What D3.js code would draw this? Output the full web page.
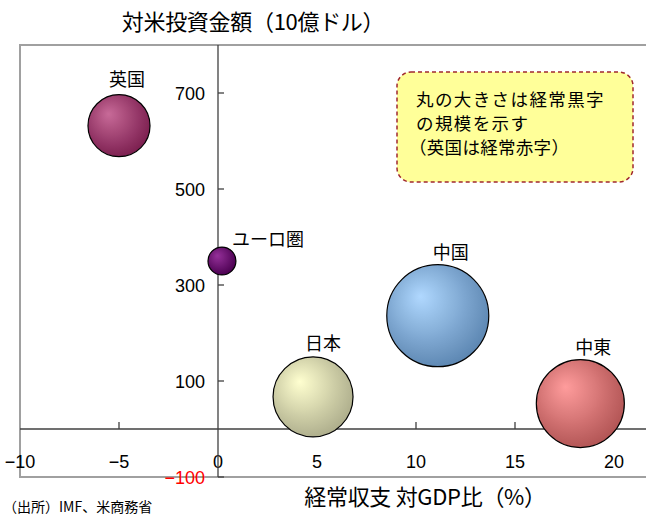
<!DOCTYPE html>
<html>
<head>
<meta charset="utf-8">
<script src="https://cdn.jsdelivr.net/npm/d3@7"></script>
<style>
  body { margin: 0; background: #fff; }
  svg { display: block; font-family: "Noto Sans CJK JP", "Noto Sans", sans-serif; }
  .num { font-family: "Liberation Sans Narrow", "Liberation Sans", sans-serif; }
</style>
</head>
<body>
<div id="chart-area"><svg></svg></div>
<script>
const SIZE = { width: 646, height: 515 };
const PLOT = { left: 20, right: 646, top: 45, bottom: 477 };

// data
const regions = ["英国", "ユーロ圏", "中国", "日本", "中東"];
const currentAccountGdp = [-5.0, 0.2, 11.1, 4.8, 18.3];
const usInvestment = [632, 350, 236, 67, 53];
const surplusSize = [148, 30, 400, 246, 298];
const xTicks = [-10, -5, 0, 5, 10, 15, 20];
const yTicks = [-100, 100, 300, 500, 700];
const noteLines = ["丸の大きさは経常黒字", "の規模を示す", "（英国は経常赤字）"];

const palette = {
  "英国": ["#c86a98", "#7c1f50"],
  "ユーロ圏": ["#95309a", "#4a0050"],
  "中国": ["#b0d8ff", "#5d87b2"],
  "日本": ["#ffffd0", "#aeae8c"],
  "中東": ["#ff9c9c", "#b25555"]
};
// label placement relative to bubble top
const labelOffset = {
  "英国": { dx: 8, dy: -9, anchor: "middle" },
  "ユーロ圏": { dx: 10, dy: -1, anchor: "start" },
  "中国": { dx: 13, dy: -6, anchor: "middle" },
  "日本": { dx: 10, dy: -7, anchor: "middle" },
  "中東": { dx: 13, dy: -6, anchor: "middle" }
};

const fmt = d => d < 0 ? "\u2212" + Math.abs(d) : String(d);

const draw = () => {
  const svg = d3.select("#chart-area svg")
    .attr("width", SIZE.width)
    .attr("height", SIZE.height);

  const x = d3.scaleLinear().domain([-10, 20]).range([20, 614]);
  const y = d3.scaleLinear().domain([-100, 800]).range([PLOT.bottom, PLOT.top]);
  const r = d3.scaleSqrt().domain([0, 400]).range([0, 51]);

  const defs = svg.append("defs");
  regions.forEach((name, i) => {
    const g = defs.append("radialGradient")
      .attr("id", "grad" + i)
      .attr("cx", "42%").attr("cy", "40%")
      .attr("fx", "33%").attr("fy", "31%")
      .attr("r", "62%");
    const c = d3.interpolateRgb(palette[name][0], palette[name][1]);
    d3.range(0, 1.001, 0.1).forEach(t => {
      g.append("stop").attr("offset", t).attr("stop-color", c(t));
    });
  });

  // frame (top, left, bottom)
  svg.append("path")
    .attr("d", `M${PLOT.right},${PLOT.top}H${PLOT.left}V${PLOT.bottom}H${PLOT.right}`)
    .attr("fill", "none")
    .attr("stroke", "#a0a0a0")
    .attr("stroke-width", 2);

  // note box
  const note = svg.append("g").attr("transform", "translate(397,72)");
  note.append("rect")
    .attr("width", 236).attr("height", 110)
    .attr("rx", 14)
    .attr("fill", "#ffff99")
    .attr("stroke", "#a0282f")
    .attr("stroke-width", 1.5)
    .attr("stroke-dasharray", "4,3");
  note.selectAll("text.note")
    .data(noteLines)
    .join("text")
    .attr("class", "note")
    .attr("x", (d, i) => i === 2 ? 12 : 19)
    .attr("y", (d, i) => 34 + i * 24)
    .attr("font-size", 17.5)
    .attr("letter-spacing", (d, i) => i === 2 ? 0.3 : 1.4)
    .text(d => d);

  // x axis (zero line)
  svg.append("line")
    .attr("x1", PLOT.left).attr("x2", PLOT.right)
    .attr("y1", y(0)).attr("y2", y(0))
    .attr("stroke", "#404040").attr("stroke-width", 1.3);
  svg.selectAll("line.xtick")
    .data(xTicks.filter(d => d !== -10 && d !== 0))
    .join("line")
    .attr("class", "xtick")
    .attr("x1", d => x(d)).attr("x2", d => x(d))
    .attr("y1", y(0)).attr("y2", y(0) - 7)
    .attr("stroke", "#404040").attr("stroke-width", 1.3);
  svg.selectAll("text.xlab")
    .data(xTicks)
    .join("text")
    .attr("class", "xlab num")
    .attr("x", d => x(d))
    .attr("y", 468)
    .attr("text-anchor", "middle")
    .attr("font-size", 18)
    .text(fmt);

  // y axis
  svg.append("line")
    .attr("x1", x(0)).attr("x2", x(0))
    .attr("y1", PLOT.top).attr("y2", PLOT.bottom)
    .attr("stroke", "#404040").attr("stroke-width", 1.3);
  svg.selectAll("line.ytick")
    .data(yTicks)
    .join("line")
    .attr("class", "ytick")
    .attr("x1", x(0)).attr("x2", x(0) + 6)
    .attr("y1", d => y(d)).attr("y2", d => y(d))
    .attr("stroke", "#404040").attr("stroke-width", 1.3);
  svg.selectAll("text.ylab")
    .data(yTicks)
    .join("text")
    .attr("class", "ylab num")
    .attr("x", x(0) - 13)
    .attr("y", d => y(d) + 7)
    .attr("text-anchor", "end")
    .attr("font-size", 18)
    .attr("fill", d => d < 0 ? "#ff0000" : "#000")
    .text(fmt);

  // bubbles
  const rows = regions.map((name, i) => ({
    name, i, cx: currentAccountGdp[i], cy: usInvestment[i], size: surplusSize[i]
  }));
  svg.selectAll("circle.bubble")
    .data(rows)
    .join("circle")
    .attr("class", "bubble")
    .attr("cx", d => x(d.cx))
    .attr("cy", d => y(d.cy))
    .attr("r", d => r(d.size))
    .attr("fill", d => `url(#grad${d.i})`)
    .attr("stroke", "#000")
    .attr("stroke-width", 1.2);
  svg.selectAll("text.blabel")
    .data(rows)
    .join("text")
    .attr("class", "blabel")
    .attr("x", d => x(d.cx) + labelOffset[d.name].dx)
    .attr("y", d => y(d.cy) - r(d.size) + labelOffset[d.name].dy)
    .attr("text-anchor", d => labelOffset[d.name].anchor)
    .attr("font-size", 18)
    .text(d => d.name);

  // titles
  svg.append("text")
    .attr("x", 253).attr("y", 30)
    .attr("text-anchor", "middle")
    .attr("font-size", 22)
    .attr("letter-spacing", -0.3)
    .text("対米投資金額（10億ドル）");
  svg.append("text")
    .attr("x", 425).attr("y", 505)
    .attr("text-anchor", "middle")
    .attr("font-size", 22)
    .attr("letter-spacing", -0.3)
    .text("経常収支 対GDP比（%）");
  svg.append("text")
    .attr("x", 3).attr("y", 512)
    .attr("font-size", 14)
    .text("（出所）IMF、米商務省");
};

window.onload = draw;
</script>
</body>
</html>
